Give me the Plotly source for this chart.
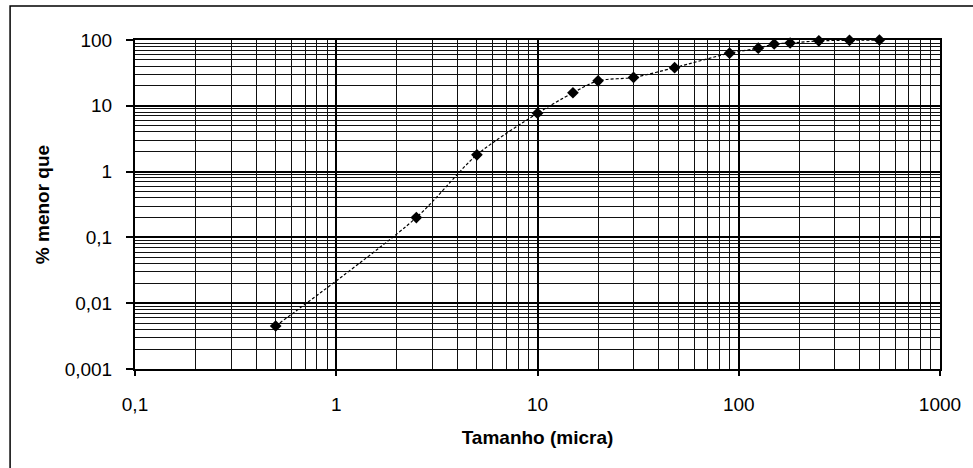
import plotly.graph_objects as go

# Data
tamanho = [0.5, 2.5, 5, 10, 15, 20, 30, 48, 90, 125, 150, 180, 250, 355, 500]
menor_que = [0.0045, 0.2, 1.8, 7.7, 15.8, 24, 27, 38, 63, 75, 87, 90, 97, 99, 100]

x_tickvals = [0.1, 1, 10, 100, 1000]
x_ticktext = ["0,1", "1", "10", "100", "1000"]
y_tickvals = [0.001, 0.01, 0.1, 1, 10, 100]
y_ticktext = ["0,001", "0,01", "0,1", "1", "10", "100"]

W, H = 973, 468
L, R, T, B = 135, 26, 40, 99
pw, ph = W - L - R, H - T - B

fig = go.Figure()
fig.add_trace(go.Scatter(
    x=tamanho, y=menor_que, mode="lines+markers",
    line=dict(color="black", width=1.2, dash="3px,2px", shape="spline", smoothing=0.8),
    marker=dict(symbol="diamond", size=9, color="black"),
    cliponaxis=False, showlegend=False,
))

tick_font = dict(family="Liberation Sans, Arial, sans-serif", size=19, color="black")
title_font = dict(family="Liberation Sans, Arial, sans-serif", size=19, color="black")

fig.update_xaxes(
    type="log", range=[-1, 3],
    tickvals=x_tickvals, ticktext=x_ticktext,
    showgrid=True, gridcolor="black", gridwidth=2,
    minor=dict(dtick="D1", showgrid=True, gridcolor="#111111", gridwidth=1.4, ticks=""),
    ticks="outside", ticklen=5, tickcolor="black", tickwidth=1.5,
    showline=True, linecolor="black", linewidth=2, mirror=True,
    tickfont=tick_font, ticklabelstandoff=12,
    title=dict(text="<b>Tamanho (micra)</b>", font=title_font, standoff=17),
    zeroline=False,
)
fig.update_yaxes(
    type="log", range=[-3, 2],
    tickvals=y_tickvals, ticktext=y_ticktext,
    showgrid=True, gridcolor="black", gridwidth=2,
    minor=dict(dtick="D1", showgrid=True, gridcolor="#111111", gridwidth=1.4, ticks=""),
    ticks="outside", ticklen=7, tickcolor="black", tickwidth=1.5,
    showline=True, linecolor="black", linewidth=2, mirror=True,
    tickfont=tick_font, ticklabelstandoff=10,
    title=dict(text="<b>% menor que</b>", font=title_font, standoff=10),
    zeroline=False,
)

# outer chart border (extends past right/bottom edge as in the reference)
fig.add_shape(
    type="rect", xref="paper", yref="paper",
    x0=(9 - L) / pw, x1=(990 - L) / pw,
    y0=(H - B - 490) / ph, y1=(H - B - 6) / ph,
    line=dict(color="black", width=1.5), fillcolor="rgba(0,0,0,0)", layer="below",
)

fig.update_layout(
    width=W, height=H,
    margin=dict(l=L, r=R, t=T, b=B),
    paper_bgcolor="white", plot_bgcolor="white",
    font=tick_font,
)

fig.write_html(
    "out.html",
    config={"displayModeBar": False},
    post_script="document.body.style.margin='0';document.body.style.overflow='hidden';",
)
